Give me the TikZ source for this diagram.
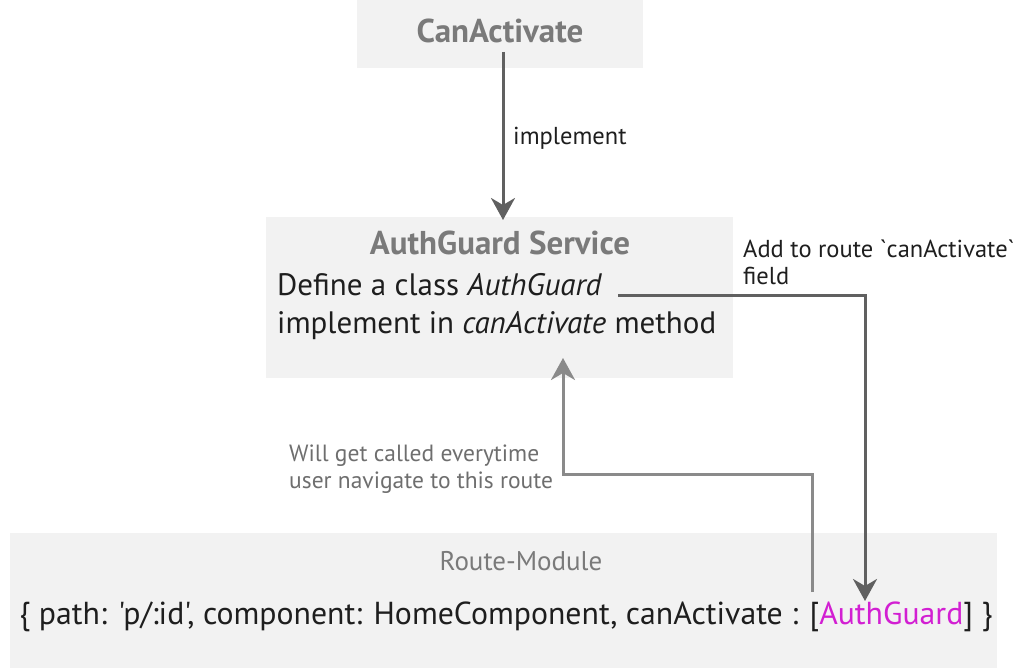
\documentclass[tikz,border=0pt]{standalone}
\usepackage{fontspec}
\setmainfont{PT Sans}
\newfontfamily\rawfont{PT Sans}
\usetikzlibrary{arrows.meta}
\definecolor{boxfill}{HTML}{F2F2F2}
\definecolor{titlegray}{HTML}{7A7A7A}
\definecolor{arrowdark}{HTML}{606060}
\definecolor{arrowlight}{HTML}{8A8A8A}
\definecolor{bodytext}{HTML}{1E1E1E}
\definecolor{notegray}{HTML}{6E6E6E}
\definecolor{guardmag}{HTML}{D21FD2}
\begin{document}
\begin{tikzpicture}[x=1pt,y=-1pt,
  panel/.style={fill=boxfill,draw=none,inner sep=0pt},
  titletext/.style={text=titlegray,font=\fontsize{33}{36}\selectfont\bfseries,inner sep=0pt},
  bodyline/.style={text=bodytext,font=\fontsize{31}{36}\selectfont,inner sep=0pt,anchor=west},
  notetext/.style={font=\rawfont\fontsize{24.5}{27}\selectfont,inner sep=0pt,anchor=west,align=left},
  conn/.style={line width=3pt,-{Stealth[width=24pt,length=22pt,inset=7pt]}}]
\useasboundingbox (0,0) rectangle (1018,668);
% panels
\node[panel,minimum width=286pt,minimum height=68pt] (capanel) at (500,34) {};
\node[panel,minimum width=467pt,minimum height=161pt] (agpanel) at (499.5,297.5) {};
\node[panel,minimum width=987pt,minimum height=140pt] (rmpanel) at (503.5,603) {};
% titles
\node[titletext] (catitle) at (500,31) {CanActivate};
\node[titletext] (agtitle) at (500,243) {AuthGuard Service};
\node[titletext,font=\fontsize{27}{30}\selectfont] (rmtitle) at (521,561) {Route-Module};
% bodies
\node[bodyline] (def) at (277,285) {Define a class \textit{AuthGuard}};
\node[bodyline] (impl) at (277,326) {implement in \textit{canActivate} method};
\node[text=bodytext,font=\rawfont\fontsize{31}{36}\selectfont,inner sep=0pt] (route) at (506,617)
  {\resizebox{973pt}{!}{\{ path: 'p/:id', component: HomeComponent, canActivate : [\textcolor{guardmag}{AuthGuard}] \}}};
% notes
\node[notetext,text=bodytext] (implab) at (513,138) {implement};
\node[notetext,text=bodytext] (addlab) at (743,262) {Add to route `canActivate`\\field};
\node[notetext,text=notegray,font=\rawfont\fontsize{23.5}{27}\selectfont] (calllab) at (289,469) {Will get called everytime\\user navigate to this route};
% connector coordinates
\coordinate (caout) at (503,52);
\coordinate (agin) at (503,220);
\coordinate (defout) at (618,296);
\coordinate (rightturn) at (865,296);
\coordinate (guardin) at (865,601);
\coordinate (guardout) at (812,592);
\coordinate (upturn) at (812,474);
\coordinate (upturn2) at (563,474);
\coordinate (agbottom) at (563,358);
% connectors
\draw[conn,draw=arrowdark] (caout) -- (agin);
\draw[conn,draw=arrowdark] (defout) -- (rightturn) -- (guardin);
\draw[conn,draw=arrowlight] (guardout) -- (upturn) -- (upturn2) -- (agbottom);
\end{tikzpicture}
\end{document}
